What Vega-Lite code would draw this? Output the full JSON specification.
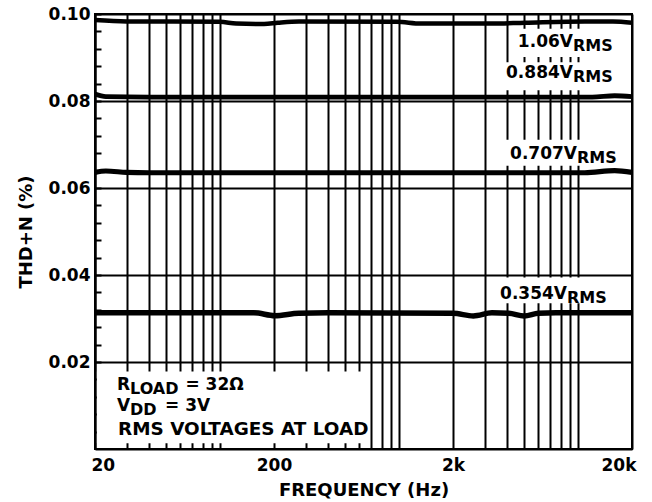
{
  "$schema": "https://vega.github.io/schema/vega-lite/v6.json",
  "width": 537,
  "height": 435,
  "autosize": "none",
  "padding": {"left": 95, "top": 14, "right": 20, "bottom": 53},
  "background": "white",
  "config": {
    "font": "DejaVu Sans",
    "view": {"stroke": "black", "strokeWidth": 2},
    "axis": {
      "domainColor": "black", "domainWidth": 2,
      "labelColor": "black", "titleColor": "black",
      "labelFont": "DejaVu Sans", "labelFontWeight": "bold", "labelFontSize": 17,
      "titleFont": "DejaVu Sans", "titleFontWeight": "bold", "titleFontSize": 18,
      "gridColor": "black", "gridWidth": 2, "gridOpacity": 1
    },
    "text": {"font": "DejaVu Sans", "fontWeight": "bold", "color": "black"}
  },
  "datasets": {
    "curves": [
      {"series": "1.06", "freq": 20, "thd": 0.0986},
      {"series": "1.06", "freq": 30, "thd": 0.0983},
      {"series": "1.06", "freq": 100, "thd": 0.0982},
      {"series": "1.06", "freq": 123, "thd": 0.0978},
      {"series": "1.06", "freq": 176, "thd": 0.0977},
      {"series": "1.06", "freq": 210, "thd": 0.098},
      {"series": "1.06", "freq": 276, "thd": 0.0983},
      {"series": "1.06", "freq": 973, "thd": 0.0982},
      {"series": "1.06", "freq": 1324, "thd": 0.0978},
      {"series": "1.06", "freq": 3260, "thd": 0.0978},
      {"series": "1.06", "freq": 5050, "thd": 0.098},
      {"series": "1.06", "freq": 10900, "thd": 0.0983},
      {"series": "1.06", "freq": 15660, "thd": 0.0983},
      {"series": "1.06", "freq": 20000, "thd": 0.098},
      {"series": "0.884", "freq": 20, "thd": 0.0816},
      {"series": "0.884", "freq": 23, "thd": 0.081},
      {"series": "0.884", "freq": 40, "thd": 0.0809},
      {"series": "0.884", "freq": 1000, "thd": 0.0809},
      {"series": "0.884", "freq": 12000, "thd": 0.0809},
      {"series": "0.884", "freq": 16000, "thd": 0.0812},
      {"series": "0.884", "freq": 20000, "thd": 0.081},
      {"series": "0.707", "freq": 20, "thd": 0.0636},
      {"series": "0.707", "freq": 23, "thd": 0.0639},
      {"series": "0.707", "freq": 30, "thd": 0.0636},
      {"series": "0.707", "freq": 40, "thd": 0.0635},
      {"series": "0.707", "freq": 1000, "thd": 0.0635},
      {"series": "0.707", "freq": 10900, "thd": 0.0635},
      {"series": "0.707", "freq": 16000, "thd": 0.064},
      {"series": "0.707", "freq": 20000, "thd": 0.0636},
      {"series": "0.354", "freq": 20, "thd": 0.0313},
      {"series": "0.354", "freq": 155, "thd": 0.0313},
      {"series": "0.354", "freq": 202, "thd": 0.03065},
      {"series": "0.354", "freq": 275, "thd": 0.0312},
      {"series": "0.354", "freq": 400, "thd": 0.0313},
      {"series": "0.354", "freq": 2000, "thd": 0.0312},
      {"series": "0.354", "freq": 2600, "thd": 0.0306},
      {"series": "0.354", "freq": 3300, "thd": 0.0313},
      {"series": "0.354", "freq": 4100, "thd": 0.0312},
      {"series": "0.354", "freq": 5000, "thd": 0.0306},
      {"series": "0.354", "freq": 6000, "thd": 0.0312},
      {"series": "0.354", "freq": 7500, "thd": 0.0313},
      {"series": "0.354", "freq": 20000, "thd": 0.0313}
    ]
  },
  "layer": [
    {
      "data": {"name": "curves"},
      "mark": {"type": "line", "color": "black", "interpolate": "monotone"},
      "encoding": {
        "x": {
          "field": "freq", "type": "quantitative",
          "scale": {"type": "log", "domain": [20, 20000], "nice": false},
          "axis": {
            "title": "FREQUENCY (Hz)",
            "values": [20, 30, 40, 50, 60, 70, 80, 90, 100, 200, 300, 400, 500, 600, 700, 800, 900, 1000, 2000, 3000, 4000, 5000, 6000, 7000, 8000, 9000, 10000, 20000],
            "tickCount": 100,
            "labelExpr": "datum.value == 20 ? '20' : datum.value == 200 ? '200' : datum.value == 2000 ? '2k' : datum.value == 20000 ? '20k' : ''",
            "ticks": false,
            "labelPadding": 8,
            "labelFlush": true,
            "labelFlushOffset": 4,
            "labelOverlap": false,
            "titlePadding": 8
          }
        },
        "y": {
          "field": "thd", "type": "quantitative",
          "scale": {"domain": [0, 0.1], "nice": false, "zero": false},
          "axis": {
            "title": "THD+N (%)",
            "values": [0.004, 0.008, 0.012, 0.016, 0.02, 0.024, 0.028, 0.032, 0.036, 0.04, 0.044, 0.048, 0.052, 0.056, 0.06, 0.064, 0.068, 0.072, 0.076, 0.08, 0.084, 0.088, 0.092, 0.096, 0.1],
            "tickCount": 100,
            "labelExpr": "round(datum.value * 1000) % 20 === 0 ? format(datum.value, '.2f') : ''",
            "gridOpacity": {"condition": {"test": "round(datum.value * 1000) % 20 === 0", "value": 1}, "value": 0},
            "tickSize": -6,
            "tickWidth": 2,
            "tickColor": "black",
            "labelPadding": 11,
            "labelOverlap": false,
            "titlePadding": 13
          }
        },
        "detail": {"field": "series"},
        "strokeWidth": {
          "field": "series", "type": "nominal",
          "scale": {"domain": ["1.06", "0.884", "0.707", "0.354"], "range": [4.5, 5.5, 4.5, 4.5]},
          "legend": null
        }
      }
    },
    {
      "data": {"values": [{}]},
      "mark": {"type": "rect", "color": "white"},
      "encoding": {"x": {"datum": 20.5}, "x2": {"datum": 644}, "y": {"datum": 0.0178}, "y2": {"datum": 0.0013}}
    },
    {
      "data": {"values": [{}]},
      "mark": {"type": "rect", "color": "white"},
      "encoding": {"x": {"datum": 4440}, "x2": {"datum": 16280}, "y": {"datum": 0.0966}, "y2": {"datum": 0.0901}}
    },
    {
      "data": {"values": [{}]},
      "mark": {"type": "rect", "color": "white"},
      "encoding": {"x": {"datum": 3756}, "x2": {"datum": 16280}, "y": {"datum": 0.0889}, "y2": {"datum": 0.0825}}
    },
    {
      "data": {"values": [{}]},
      "mark": {"type": "rect", "color": "white"},
      "encoding": {"x": {"datum": 3940}, "x2": {"datum": 17140}, "y": {"datum": 0.0711}, "y2": {"datum": 0.0651}}
    },
    {
      "data": {"values": [{}]},
      "mark": {"type": "rect", "color": "white"},
      "encoding": {"x": {"datum": 3432}, "x2": {"datum": 15260}, "y": {"datum": 0.0394}, "y2": {"datum": 0.0335}}
    },
    {
      "data": {"values": [{}]},
      "mark": {"type": "text", "fontSize": 17, "align": "right", "baseline": "alphabetic"},
      "encoding": {"x": {"datum": 9360}, "y": {"datum": 0.0923}, "text": {"value": "1.06V"}}
    },
    {
      "data": {"values": [{}]},
      "mark": {"type": "text", "fontSize": 16, "align": "left", "baseline": "alphabetic", "dy": 4},
      "encoding": {"x": {"datum": 9360}, "y": {"datum": 0.0923}, "text": {"value": "RMS"}}
    },
    {
      "data": {"values": [{}]},
      "mark": {"type": "text", "fontSize": 17, "align": "right", "baseline": "alphabetic"},
      "encoding": {"x": {"datum": 9360}, "y": {"datum": 0.0852}, "text": {"value": "0.884V"}}
    },
    {
      "data": {"values": [{}]},
      "mark": {"type": "text", "fontSize": 16, "align": "left", "baseline": "alphabetic", "dy": 4},
      "encoding": {"x": {"datum": 9360}, "y": {"datum": 0.0852}, "text": {"value": "RMS"}}
    },
    {
      "data": {"values": [{}]},
      "mark": {"type": "text", "fontSize": 17, "align": "right", "baseline": "alphabetic"},
      "encoding": {"x": {"datum": 9860}, "y": {"datum": 0.0667}, "text": {"value": "0.707V"}}
    },
    {
      "data": {"values": [{}]},
      "mark": {"type": "text", "fontSize": 16, "align": "left", "baseline": "alphabetic", "dy": 4},
      "encoding": {"x": {"datum": 9860}, "y": {"datum": 0.0667}, "text": {"value": "RMS"}}
    },
    {
      "data": {"values": [{}]},
      "mark": {"type": "text", "fontSize": 17, "align": "right", "baseline": "alphabetic"},
      "encoding": {"x": {"datum": 8670}, "y": {"datum": 0.0345}, "text": {"value": "0.354V"}}
    },
    {
      "data": {"values": [{}]},
      "mark": {"type": "text", "fontSize": 16, "align": "left", "baseline": "alphabetic", "dy": 4},
      "encoding": {"x": {"datum": 8670}, "y": {"datum": 0.0345}, "text": {"value": "RMS"}}
    },
    {
      "data": {"values": [{}]},
      "mark": {"type": "text", "fontSize": 17, "align": "left", "baseline": "alphabetic"},
      "encoding": {"x": {"datum": 26.5}, "y": {"datum": 0.01363}, "text": {"value": "R"}}
    },
    {
      "data": {"values": [{}]},
      "mark": {"type": "text", "fontSize": 16, "align": "left", "baseline": "alphabetic", "dy": 4},
      "encoding": {"x": {"datum": 31.4}, "y": {"datum": 0.01363}, "text": {"value": "LOAD"}}
    },
    {
      "data": {"values": [{}]},
      "mark": {"type": "text", "fontSize": 17, "align": "left", "baseline": "alphabetic"},
      "encoding": {"x": {"datum": 64}, "y": {"datum": 0.01363}, "text": {"value": "= 32Ω"}}
    },
    {
      "data": {"values": [{}]},
      "mark": {"type": "text", "fontSize": 17, "align": "left", "baseline": "alphabetic"},
      "encoding": {"x": {"datum": 26.5}, "y": {"datum": 0.00869}, "text": {"value": "V"}}
    },
    {
      "data": {"values": [{}]},
      "mark": {"type": "text", "fontSize": 16, "align": "left", "baseline": "alphabetic", "dy": 4},
      "encoding": {"x": {"datum": 31.4}, "y": {"datum": 0.00869}, "text": {"value": "DD"}}
    },
    {
      "data": {"values": [{}]},
      "mark": {"type": "text", "fontSize": 17, "align": "left", "baseline": "alphabetic"},
      "encoding": {"x": {"datum": 49.2}, "y": {"datum": 0.00869}, "text": {"value": "= 3V"}}
    },
    {
      "data": {"values": [{}]},
      "mark": {"type": "text", "fontSize": 18.4, "align": "left", "baseline": "alphabetic"},
      "encoding": {"x": {"datum": 26.9}, "y": {"datum": 0.00329}, "text": {"value": "RMS VOLTAGES AT LOAD"}}
    }
  ]
}
